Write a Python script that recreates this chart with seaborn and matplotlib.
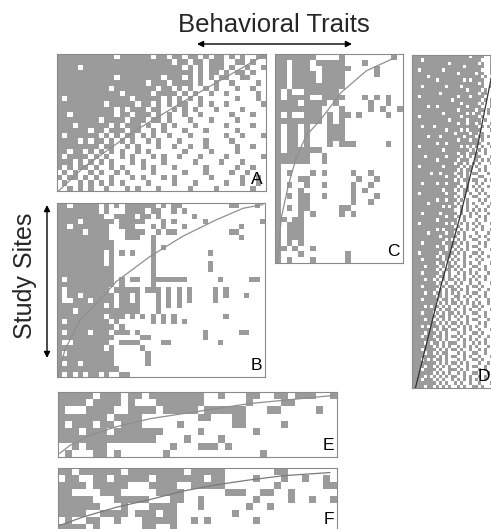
import numpy as np
import matplotlib
matplotlib.use("Agg")
import matplotlib.pyplot as plt
from matplotlib.colors import ListedColormap
from matplotlib.patches import FancyArrowPatch
import seaborn as sns

sns.set_style("white")
plt.rcParams['font.family'] = ['Liberation Sans', 'DejaVu Sans']

# ---------------------------------------------------------
# presence / absence matrices ('#' = trait present), rows = sites
# ---------------------------------------------------------
panel_a = [
    "######## ###.#### ##.##.## .##.#.## .#.#..##",
    "######## ######## ######.# #.##.### ..##.#..",
    "####.### ######## ######## .#.#.### .#..#..#",
    "######## ######## ######## ##.#.##. #.##.#..",
    "######## ###.#### ####.### .#.#.#.# #..##...",
    "######## ######## #.###.## ##.#..#. .#....#.",
    "######## ##.##### ###.##.# .#..#.#. ..#..#..",
    "######## ####.### ##.####. #.#..#.. #.....#.",
    "#.###### ######.# ####.#.# .#.#.... ..#...#.",
    "######## #.#####. ##.#.#.# #..#.#.. #......#",
    "######## ###.#.## #.##..#. #.#...#. ...#....",
    "##.##### ###.##.# ##.#.#.. #..#.... .#...#..",
    "######## .####.## #.##.#.. .#...#.. ..#.....",
    "###.#### ##.#.### .#..#.#. ..#..... #....#..",
    "######.# #.###.## ..#.#... #...#... ..#.....",
    "#.###### .#.#.##. #.#..#.. .#...... #..#...#",
    "####.#.# #.#.#.#. .#.#...# ....#... .#......",
    "######## .##..#.# ...#..#. .#..#... ..#..#..",
    "##.##.#. #.#.#..# .#...... #....#.. ..#.....",
    "#.####.# .#..#.#. ..#.#..# ...#.... #......#",
    "###.#.#. #.#...#. #...#... ..#....# ...#....",
    "#.#.##.# ..#.#... #.#...#. ....#... ..#..#..",
    ".#.#..#. #..#.#.. ..#..... #...#... .#..#...",
    "#.##.#.# ..#...#. #...#.#. .....#.. ...#..#.",
    ".#..#.#. #.#.#... .#....#. ..#..... #..#..#.",
    "..#.#.#. .#...#.# ...#.... .#....#. .....#..",
]

panel_b = [
    "##.##### .#.#.### ###.#.## ........ .##...#.",
    "######## .#...### #.##..#. #....... ........",
    "######## #..####. ##.#.... ..#..... ........",
    "####.### ###.#### #...#.#. ....#... .......#",
    "##.##### ##..###. ..#.#... #....... ...#....",
    "#####.## ##...### #..#.##. ........ .##.....",
    "######## ##...### ..#..... ........ ...#....",
    "######## ###..... ..#..... ........ ........",
    "######## ###..... ..#.#... ........ ........",
    "######## #.#.#.#. ..#..... .....#.. ........",
    "######## #.#..... ..#..... ........ ........",
    "######## #.#..... ..#..... .....#.. ........",
    "######## ###..... ..#..... .....#.. ........",
    "######## ###..... ..#..... ........ ........",
    "#.###### ###.#.## ..###### #......# .....##.",
    "######## ###.#... ..#..... ........ ........",
    "#.###### ##.##### .###.#.# .#....#. #.......",
    "#.##.### ###.##.# ...#.#.# .#....#. #...#...",
    "#..###.# ###.##.# ...#.#.# .#....#. ........",
    "######## #.#.#### ...#.#.# ........ ........",
    "###.#### ######## ...#.... ........ ........",
    "######## #.###.#. #.#.#.#. ........ #.......",
    "#.###### ##.#.... ..#.#.#. #....... ........",
    "######## ###.#... ........ ........ ........",
    "#.####.# ##.###.# ........ ....#... ...##...",
    "######## ###..... ##...... ....#... ........",
    "#..##### ##..#### ....##.. .......# ........",
    "######## #.#..... #....... ........ ........",
    "#.###### ###..... .#...... ........ ........",
    "######## ###..... .#...... ........ ........",
    "#.##.### ###..... .#...... ........ ........",
    "######## ####.... ........ ........ ........",
    "#.#.#.## .#..##.. ........ ........ ........",
]

panel_c = [
    "#######. ...#.... ....#.",
    "##.###.# ####...# ......",
    "##.###.. #####... .#....",
    "##.####. ####.... .#....",
    "##.####. ####.... ......",
    "##.##### ####.... ......",
    "#.#..### ###..... ......",
    "#.####.. ####...# .#.#..",
    "####.### #.#..... #..#..",
    "######## ...#.... #.#..#",
    "#.#..### .#.##.#. ...#..",
    "######## .#.#.... ......",
    "#.##.#.. .###.... ......",
    "#.##.#.. .###.... ......",
    "#.##.#.. .###.... ......",
    "#.##.#.. .#.###.. ...#..",
    "#.###### ........ ......",
    "######.. #....... ......",
    "######.. #....... ......",
    "#....... ........ ......",
    "#.#...#. #....#.. #.....",
    "#...##.. ......#. .#....",
    "#.#..#.. #....#.. #.....",
    "#...#... .....#.# ......",
    "#.#.##.. #....#.. .#....",
    "#...##.. .....#.. #.....",
    "#.#.##.. ...##... ......",
    "#...#.#. ...#.#.. ......",
    "##.##... ........ ......",
    "#.###... ........ ......",
    "#.###... ........ ......",
    "#.###... ........ ......",
    "#.#.#... ........ ......",
    "##.#..#. ........ ......",
    "#...#... ....#... ......",
    "#.#...#. ....#... ......",
]

panel_d = [
    "####### ####### #####.# ###..##",
    "###.### ####### ####### ##...##",
    "####### #####.# ####### #.#..#.",
    "####### ####### ###.### ###..##",
    "##.#### ###.### ####### ##...#.",
    "####### ####### #.##### .##..##",
    "#####.# ####### ####### ##.#..#",
    "####### #.##### ###.#.# ###..##",
    "####### ####### ####### #.#...#",
    "###.### ####.## ##.#### ###..#.",
    "####### ####### ####.## ##.#..#",
    "####### ##.#### ####### #.##..#",
    "##.#### ####### #.###.# ###...#",
    "####### ######. ####### ##.#.##",
    "####### ####### ##.#### #.#..#.",
    "#####.# #.##### ####.## ##...##",
    "####### ####### #.##### .##.#.#",
    "####### ###.### ####.#. ##..#..",
    "##.#### ####### ##.#### #.#...#",
    "####### #####.# ####.## ##.#..#",
    "####### ####### #.##.## .#...#.",
    "###.### .###### ####### #.#.#..",
    "####### ####.## ##.#.## ##...#.",
    "####### ####### .####.# #.#...#",
    "#####.# ##.#### ###.### .##.#..",
    "####### ####### #.###.# #.#...#",
    "####### #.##.## ####### ##..#..",
    "##.#### ####### ##.#.#. #.#..#.",
    "####### ###.### #####.# .#.#...",
    "####### ####### #.##.## #..#..#",
    "####.## ####.## ##.#.#. ##...#.",
    "####### #.##### #.###.. #.#.#..",
    "####### ####### .##.#.# .#...#.",
    "##.#### ###.### ##.#.#. #..#..#",
    "####### ####### #.#.##. .#.#...",
    "######. ##.#### .##.#.# #...#.#",
    "####### ####.## #.#.#.. .##....",
    "####### ####### .#.##.# #..#.#.",
    "###.### #.##.## ##..#.. #.#...#",
    "####### ####### #.#.#.# .#..#..",
    "####### ###.### .#.##.. #.#....",
    "##.#### ####.## #..#.#. .#.#..#",
    "####### ####### .#.#..# #...#..",
    "####### #.##.## #.#.#.. .#.#...",
    "#####.# ####### .#..#.# ..#..#.",
    "####### ###.#.# #.#.#.. #...#..",
    "####### ####### ..#.#.# .#.#...",
    "###.### ##.#### #.#..#. #...#.#",
    "####### ####.## .#.#.#. .#.#...",
    "####### #.##### #..#... #..#..#",
    "##.#### ####.#. #.#.#.# .#...#.",
    "####### ####### .#..#.. #.#....",
    "####### #.#.### #.#.#.# ..#..#.",
    "#####.# ####.## .#.#... #...#..",
    "####### ##.#### #..#.#. .#.#...",
    "####### ####.#. .#.#..# #...#.#",
    "###.### ###.### #.#.#.. .#.#...",
    "####### #.##.## .#..#.# #..#...",
    "####### ####.#. #.#.#.. .#...#.",
    "##.#### ##.#### .#.#..# #.#....",
    "####### #.#.##. #..#.#. .#..#..",
    "###.### ###.#.# .#.#... #.#...#",
    "####### #.##.#. #..#.#. .#...#.",
    "####.## ##.#.## .#.#..# #..#...",
    "####### #.#.##. #.#..#. .#.#...",
    "###.### ##.#.#. .#.#.#. #...#.#",
    "####### #.##.#. #..#..# .#.#...",
    "####.## .#.#.## .#.#.#. #..#...",
    "####### #.#.#.. #.#..#. .#...#.",
    "###.### ##.#.## .#..#.# #.#....",
    "####### #.#.#.# #.#.#.. .#..#..",
    "####.## .##.#.# .#..#.# #..#..#",
    "####### #.#.#.. ##.#.#. .#.#...",
    "###.### ##.##.# .#..#.. #...#..",
    "####### #.#.#.# #.#.#.# .#..#..",
    "####.#. ##.#.#. .#.#..# #.#...#",
    "####### #.#.##. #..#.#. .#...#.",
    "###.### .#.#.## .#.#..# #..#...",
    "####### #.##.#. #.#.#.. .#.#..#",
    "####.## .#.#.#. .#..#.# #...#..",
    "####### #.#.#.# #.#.#.. .#.#...",
    "###.#.# ##.#.#. .#.#.#. #..#..#",
    "####### .#.##.# #..#.#. .#...#.",
    "####.## #.#.#.. .#.#..# #.#....",
    "###.### .##.#.# #.#..#. .#..#.#",
    "####### #.#.#.. .#.#.#. #..#...",
    "####.#. ##.#.## #..#..# .#.#...",
    "####### .#.#.#. .#.#.#. #...#.#",
    "###.### #.#.#.# #.#..#. .#.#...",
    "####.## .#.##.. .#.#..# #..#...",
    "####### #.#.#.# #..#.#. .#...#.",
    "###.#.# .##.#.. .#.#..# #.#....",
    "####### #.#.#.# #.#.#.. .#..#.#",
    "####.## .#.#.#. .#..#.# #..#...",
    "###.### #.#..## #.#.#.. .#.#...",
    "####### .#.#.#. .#.#..# #...#.#",
    "####.#. #.#.#.# #..#.#. .#.#...",
    "###.### .#.#..# .#.#.#. #..#...",
    "####### #.#.#.. #.#..#. .#...#.",
    "####.## .#.#.#. .#.#..# #.#....",
]

panel_e = [
    "#####.## #.##.### #####..# ...##..# #.###..#",
    "####.### #.#...## #####... ...#.... ##......",
    "#...#### ..####.# ####.### ###...## .....#..",
    "#######. ####.... ....##.. .##..... ........",
    "#.###.## .###.... .#...... .##..... #.......",
    "###.###. #######. ....#... ....#... ........",
    "######## ######.. ..#....# ........ ........",
    "..#.###. ........ #...###. #....... ........",
    ".#...##. #......# ........ .....#.. ........",
]

panel_f = [
    "##.##### #.###### ##.##### .......# #.......",
    ".##..##. #####.## #####.## ....#... #..#..#.",
    "####.### ##...### #..##### .......# ......##",
    "##....## #.....## ##...... ###..##. .#......",
    "#####... #####... ##..#... ....#... .#..#..#",
    "######.. .#...### #...#... ...#..#. ........",
    "####..## ##.###.# #....... .#...... ........",
    ".#..##.. #...#### #..#.#.. ....#... ........",
    "####.#.. ....##.. #....... ........ ........",
]

# expected isoclines (column position, row position from top)
curve_a_x = [0.3, 5.1, 14.7, 24.4, 34.6, 39.7]
curve_a_y = [26.0, 21.5, 14.7, 8.9, 3.1, 0.2]
curve_b_x = [0.2, 1.5, 4.4, 8.2, 11.4, 17.8, 24.2, 30.6, 35.8, 39.6]
curve_b_y = [32.7, 27.9, 22.2, 18.4, 14.9, 10.2, 6.3, 3.2, 1.0, 0.3]
curve_c_x = [0.4, 1.1, 2.3, 3.7, 5.4, 7.7, 11.4, 15.7, 20.9]
curve_c_y = [36.0, 28.1, 22.6, 17.7, 14.0, 11.5, 6.6, 2.9, 0.5]
curve_d_x = [1.0, 9.9, 16.0, 21.6, 25.4, 28.0]
curve_d_y = [100.5, 68.5, 48.6, 28.5, 11.4, 0.0]
curve_e_x = [0.24, 1.7, 4.5, 8.4, 13.2, 17.9, 22.7, 27.5, 32.3, 37.1, 39.7]
curve_e_y = [8.5, 7.4, 6.0, 4.8, 3.7, 3.0, 2.3, 1.6, 1.15, 0.7, 0.46]
curve_f_x = [0.24, 3.6, 8.4, 13.2, 17.9, 22.7, 27.5, 32.3, 39.0]
curve_f_y = [8.2, 7.0, 5.6, 4.5, 3.3, 2.4, 1.7, 1.1, 0.65]


def to_matrix(rows):
    return np.array([[1 if ch == '#' else 0 for ch in r.replace(' ', '')] for r in rows])


W, H = 491, 529
fig = plt.figure(figsize=(W / 100, H / 100), dpi=100)
cmap = ListedColormap(['white', '#9b9b9b'])

# name, rows, curve, pixel box (left, top, width, height), curve colour, label x
panels = [
    ('A', panel_a, curve_a_x, curve_a_y, (57, 54, 209, 137), '#8f8f8f', 0.985),
    ('B', panel_b, curve_b_x, curve_b_y, (57, 203, 208, 174), '#8f8f8f', 0.985),
    ('C', panel_c, curve_c_x, curve_c_y, (275, 54, 128, 209), '#8f8f8f', 0.975),
    ('D', panel_d, curve_d_x, curve_d_y, (412, 55, 84, 333), '#333333', 0.93),
    ('E', panel_e, curve_e_x, curve_e_y, (58, 392, 279, 65), '#8f8f8f', 0.99),
    ('F', panel_f, curve_f_x, curve_f_y, (58, 468, 279, 63), '#7a7a7a', 0.99),
]

for name, rows, cx, cy, (x, y, w, h), lc, lx in panels:
    ax = fig.add_axes([x / W, 1 - (y + h) / H, w / W, h / H])
    sns.heatmap(to_matrix(rows), cmap=cmap, vmin=0, vmax=1, cbar=False,
                xticklabels=False, yticklabels=False, ax=ax)
    for s in ax.spines.values():
        s.set_visible(True)
        s.set_color('#8a8a8a')
        s.set_linewidth(0.8)
    ax.plot(cx, cy, color=lc, lw=0.9)
    ax.text(lx, 4 / h, name, transform=ax.transAxes, ha='right', va='bottom',
            fontsize=12.5, color='black')

fig.text(274 / W, 1 - 25 / H, 'Behavioral Traits', ha='center', va='center', fontsize=18.5)
fig.text(25 / W, 1 - 276 / H, 'Study Sites', ha='center', va='center', rotation=90, fontsize=18)

arrow = dict(arrowstyle='<|-|>', color='black', lw=1.0, mutation_scale=9, shrinkA=0, shrinkB=0)
fig.add_artist(FancyArrowPatch((197 / W, 1 - 44 / H), (352 / W, 1 - 44 / H),
                               transform=fig.transFigure, **arrow))
fig.add_artist(FancyArrowPatch((47 / W, 1 - 205 / H), (47 / W, 1 - 358 / H),
                               transform=fig.transFigure, **arrow))

fig.savefig('out.png', dpi=100, facecolor='white')
